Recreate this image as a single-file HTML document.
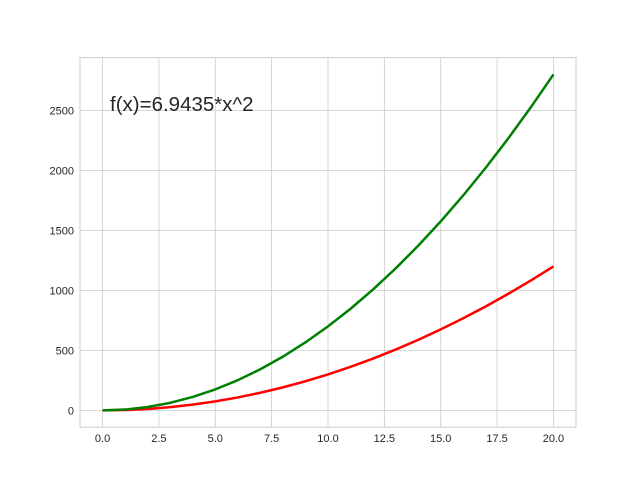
<!DOCTYPE html>
<html><head><meta charset="utf-8"><style>
html,body{margin:0;padding:0;background:#fff;}
svg{display:block;font-family:"Liberation Sans","DejaVu Sans",sans-serif;}
</style></head><body>
<svg id="chart" width="640" height="480">
<rect x="0" y="0" width="640" height="480" fill="#fff"/>
<g id="grid"></g><g id="ticks"></g><g id="series"></g>
<rect x="80" y="57.6" width="496" height="369.6" fill="none" stroke="#cccccc" stroke-width="1"/>
<text x="110" y="111" font-size="20.5" fill="#262626">f(x)=6.9435*x^2</text>
</svg>
<script>
const xs = [0,1,2,3,4,5,6,7,8,9,10,11,12,13,14,15,16,17,18,19,20];
const greenVals = [0,7,28,63,112,175,252,343,448,567,700,847,1008,1183,1372,1575,1792,2023,2268,2527,2800];
const redVals = [0,3,12,27,48,75,108,147,192,243,300,363,432,507,588,675,768,867,972,1083,1200];
const xTicks = [0,2.5,5,7.5,10,12.5,15,17.5,20];
const xTickLabels = ["0.0","2.5","5.0","7.5","10.0","12.5","15.0","17.5","20.0"];
const yTicks = [0,500,1000,1500,2000,2500];
const yTickLabels = ["0","500","1000","1500","2000","2500"];

const L=80,R=576,T=57.6,B=427.2;
const xMin=-1,xMax=21,yMin=-140,yMax=2940;
const sx=v=>L+(v-xMin)/(xMax-xMin)*(R-L);
const sy=v=>B-(v-yMin)/(yMax-yMin)*(B-T);
const NS="http://www.w3.org/2000/svg";
function mk(tag,attrs,parent){const e=document.createElementNS(NS,tag);for(const k in attrs)e.setAttribute(k,attrs[k]);parent.appendChild(e);return e;}
const grid=document.getElementById('grid'),ticks=document.getElementById('ticks'),series=document.getElementById('series');
xTicks.forEach((v,i)=>{
  const g=mk('line',{x1:sx(v),x2:sx(v),y1:T,y2:B,stroke:'#cccccc','stroke-width':0.8},grid);
  
  
  const t=mk('text',{x:sx(v),y:B+15,'font-size':11,fill:'#262626','text-anchor':'middle'},ticks);
  t.textContent=xTickLabels[i];
  
  
});
yTicks.forEach((v,i)=>{
  const g=mk('line',{x1:L,x2:R,y1:sy(v),y2:sy(v),stroke:'#cccccc','stroke-width':0.8},grid);
  
  
  const t=mk('text',{x:L-6,y:sy(v)+4,'font-size':11,fill:'#262626','text-anchor':'end'},ticks);
  t.textContent=yTickLabels[i];
  
  
});
function line(vals,color,name){
  const d=xs.map((x,i)=>(i?'L':'M')+sx(x).toFixed(2)+','+sy(vals[i]).toFixed(2)).join(' ');
  const p=mk('path',{d:d,fill:'none',stroke:color,'stroke-width':2.5,'stroke-linejoin':'round'},series);
  
  
}
line(redVals,'#ff0000','red-series-line');
line(greenVals,'#008000','green-series-line');
</script>
</body></html>
